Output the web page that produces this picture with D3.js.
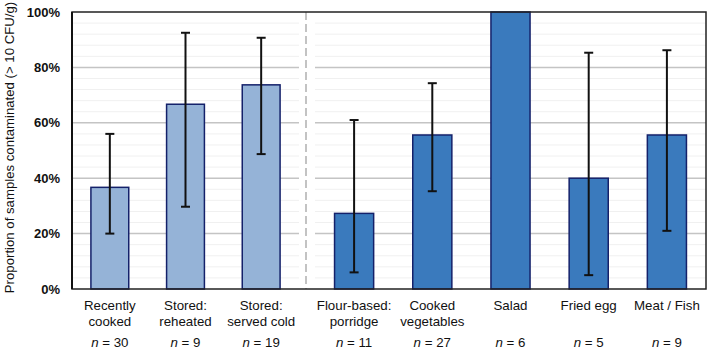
<!DOCTYPE html>
<html><head><meta charset="utf-8">
<script src="https://cdn.jsdelivr.net/npm/d3@7"></script>
<style>body{margin:0;background:#fff}svg{display:block;font-family:"Liberation Sans",Arial,sans-serif}</style>
</head><body><svg id="c" width="709" height="349"></svg>
<script>
const groupA = ["Recently cooked","Stored: reheated","Stored: served cold"];
const groupB = ["Flour-based: porridge","Cooked vegetables","Salad","Fried egg","Meat / Fish"];
const labelLines = [["Recently","cooked"],["Stored:","reheated"],["Stored:","served cold"],["Flour-based:","porridge"],["Cooked","vegetables"],["Salad"],["Fried egg"],["Meat / Fish"]];
const proportion = [0.367, 0.667, 0.737, 0.273, 0.556, 1.0, 0.40, 0.556];
const ciLow  = [0.20, 0.297, 0.487, 0.06, 0.353, 1.0, 0.05, 0.21];
const ciHigh = [0.56, 0.925, 0.907, 0.61, 0.743, 1.0, 0.853, 0.862];
const nSamples = [30, 9, 19, 11, 27, 6, 5, 9];
const yTicks = [0, 0.2, 0.4, 0.6, 0.8, 1.0];

(function(){
const svg = d3.select("#c");
const pTop = 12, pBottom = 289, pLeft = 72, pRight = 706, split = 306;
const y = d3.scaleLinear().domain([0,1]).range([pBottom, pTop]);
const xA = d3.scaleBand().domain(groupA).range([pLeft, 299]).paddingInner(0.5).paddingOuter(0.25);
const xB = d3.scaleBand().domain(groupB).range([315, pRight]).paddingInner(0.5).paddingOuter(0.25);
const cats = groupA.concat(groupB);
const xPos = c => groupA.includes(c) ? xA(c) : xB(c);
const bw = c => groupA.includes(c) ? xA.bandwidth() : xB.bandwidth();

// minor grid
const minor = d3.range(0.04, 1, 0.04).filter(v => Math.abs(v*5 - Math.round(v*5)) > 1e-6);
[[pLeft, 299],[315, pRight]].forEach(([a,b]) => {
  svg.append("g").selectAll("line").data(minor).join("line")
    .attr("x1", a).attr("x2", b).attr("y1", d=>y(d)).attr("y2", d=>y(d))
    .attr("stroke", "#f0f0f0").attr("stroke-width", 1);
  svg.append("g").selectAll("line").data(yTicks.filter(v=>v>0&&v<1)).join("line")
    .attr("x1", a).attr("x2", b).attr("y1", d=>y(d)).attr("y2", d=>y(d))
    .attr("stroke", "#c4c4c4").attr("stroke-width", 1.5);
});

// dashed separator
svg.append("line").attr("x1", split).attr("x2", split).attr("y1", pTop).attr("y2", pBottom)
  .attr("stroke", "#b0b0b0").attr("stroke-width", 1.5).attr("stroke-dasharray", "8,4");

// bars
svg.append("g").selectAll("rect").data(cats).join("rect")
  .attr("x", c => xPos(c)).attr("width", c => bw(c))
  .attr("y", (c,i) => y(proportion[i])).attr("height", (c,i) => pBottom - y(proportion[i]))
  .attr("fill", c => groupA.includes(c) ? "#95b3d7" : "#3a7abd")
  .attr("stroke", "#14216a").attr("stroke-width", 1.5);

// error bars
const eb = svg.append("g").attr("stroke", "#111").attr("stroke-width", 2);
cats.forEach((c,i) => {
  if (ciHigh[i] - ciLow[i] < 1e-6) return;
  const cx = xPos(c) + bw(c)/2;
  eb.append("line").attr("x1", cx).attr("x2", cx).attr("y1", y(ciLow[i])).attr("y2", y(ciHigh[i]));
  eb.append("line").attr("x1", cx-4.5).attr("x2", cx+4.5).attr("y1", y(ciLow[i])).attr("y2", y(ciLow[i]));
  eb.append("line").attr("x1", cx-4.5).attr("x2", cx+4.5).attr("y1", y(ciHigh[i])).attr("y2", y(ciHigh[i]));
});

// frame
svg.append("rect").attr("x", pLeft).attr("y", pTop).attr("width", pRight-pLeft).attr("height", pBottom-pTop)
  .attr("fill", "none").attr("stroke", "#222").attr("stroke-width", 1.5);
svg.append("line").attr("x1", pLeft).attr("x2", pLeft).attr("y1", pTop).attr("y2", pBottom).attr("stroke","#111").attr("stroke-width",2);

// y axis
const yAxis = d3.axisLeft(y).tickValues(yTicks).tickFormat(d3.format(".0%")).tickSize(0).tickPadding(12);
const ga = svg.append("g").attr("transform", `translate(${pLeft},0)`).call(yAxis);
ga.select(".domain").remove();
ga.selectAll("text").attr("font-size", 13).attr("font-weight", "bold").attr("fill", "#111")
  .attr("font-family", '"Liberation Sans",Arial,sans-serif');

svg.append("text").attr("transform", `translate(13.5,147.5) rotate(-90)`)
  .attr("text-anchor", "middle").attr("font-size", 13.2).attr("fill", "#111")
  .text("Proportion of samples contaminated (> 10 CFU/g)");

// category labels
cats.forEach((c,i) => {
  const cx = xPos(c) + bw(c)/2;
  labelLines[i].forEach((ln, j) => {
    svg.append("text").attr("x", cx).attr("y", 310 + j*15.5).attr("text-anchor","middle")
      .attr("font-size", 13.3).attr("fill", "#111").text(ln);
  });
  const t = svg.append("text").attr("x", cx).attr("y", 346.5).attr("text-anchor","middle")
    .attr("font-size", 13.3).attr("fill", "#111");
  t.append("tspan").attr("font-style","italic").text("n");
  t.append("tspan").text(" = " + nSamples[i]);
});
})();
</script></body></html>
